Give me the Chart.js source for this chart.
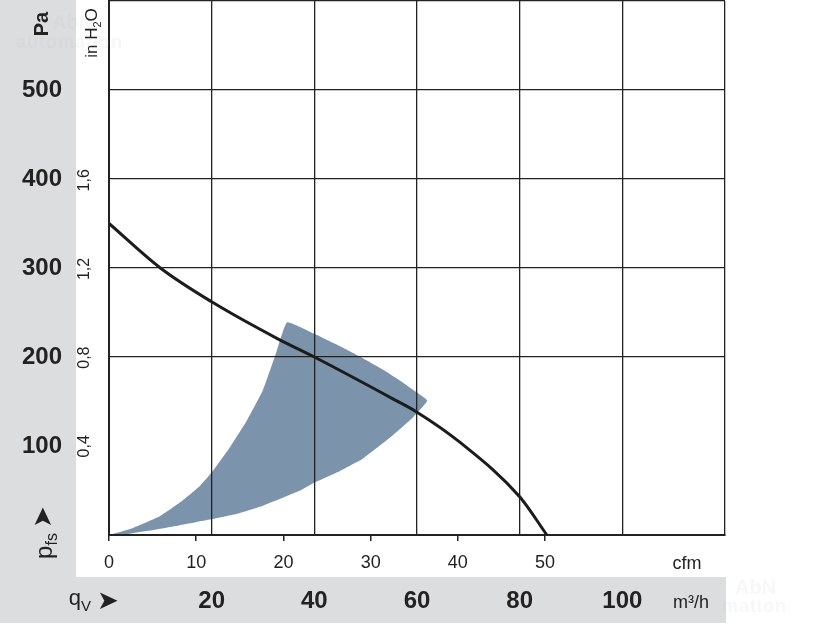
<!DOCTYPE html>
<html>
<head>
<meta charset="utf-8">
<script src="https://cdn.jsdelivr.net/npm/chart.js@4/dist/chart.umd.min.js"></script>
<style>
  html, body { margin: 0; padding: 0; background: #fff; }
  #wrap { position: relative; width: 816px; height: 624px; overflow: hidden; }
  #fan { position: absolute; left: 0; top: 0; }
  .lbl { position: absolute; transform: translate(-50%, -50%); white-space: nowrap; color: #222; line-height: 1;
         font-family: "Liberation Sans", Arial, sans-serif; }
  .rot { transform: translate(-50%, -50%) rotate(-90deg); }
  .wm { position: absolute; color: rgba(190,190,190,0.12); font-family: "Liberation Sans", sans-serif; font-weight: bold; line-height: 1; }
</style>
</head>
<body>
<div id="wrap">
  <canvas id="fan" width="816" height="624"></canvas>

  <!-- axis titles -->
  <div class="lbl rot" style="left:41px;top:24px;font-weight:bold;font-size:20px">Pa</div>
  <div class="lbl rot" style="left:93px;top:33px;font-size:17px">in H<sub style="font-size:11px">2</sub>O</div>
  <div class="lbl rot" style="left:42px;top:517px;font-size:26px;font-family:'DejaVu Sans',sans-serif">&#10148;</div>
  <div class="lbl rot" style="left:46px;top:546px;font-size:24px">p<sub style="font-size:16px">fs</sub></div>
  <div class="lbl" style="left:80px;top:600px;font-size:22px">q<sub style="font-size:15px">V</sub></div>
  <div class="lbl" style="left:108px;top:600px;font-size:26px;font-family:'DejaVu Sans',sans-serif">&#10148;</div>
  <div class="lbl" style="left:687px;top:563px;font-size:18px">cfm</div>
  <div class="lbl" style="left:691px;top:602px;font-size:18px">m³/h</div>

  <!-- faint watermarks -->
  <div class="wm" style="left:52px;top:12px;font-size:20px">AbN</div>
  <div class="wm" style="left:16px;top:33px;font-size:18px;letter-spacing:1px">automation</div>
  <div class="wm" style="left:735px;top:577px;font-size:20px">AbN</div>
  <div class="wm" style="left:722px;top:597px;font-size:18px;letter-spacing:1px">mation</div>
</div>

<script>
// unit conversions
const M3H_PER_CFM = 1.699;
const PA_PER_INH2O = 249.089;

// fan curve (m³/h, Pa)
const curveFlow = [0, 10, 20, 32.7, 40, 55.3, 60, 68.4, 80, 85.3];
const curvePa   = [350, 300, 262, 221, 200, 153, 138, 104, 43, 0];

// shaded operating range, closed outline (m³/h, Pa)
// left edge up to the tip, top arc, short right edge, lower edge back to 0
const rangeFlow = [0, 4.7, 9.9, 14.4, 17.7, 20.1, 23.6, 26.9, 30, 32.7, 34.7,
                   40, 45, 49, 53, 56, 59, 62,
                   59.2, 55.3, 49.5, 45, 39.7, 37.2, 30, 25, 20.1, 13.8, 8, 4, 0];
const rangePa   = [0, 8, 21, 39, 55, 71, 99, 129, 163, 207, 239,
                   226, 212, 200, 187, 176, 164, 151,
                   132, 112, 86, 72, 58, 50, 33, 24, 18, 11, 5, 1.5, 0];

// tick labels
const paTicks = [100, 200, 300, 400, 500];
const inH2OTicks = [0.4, 0.8, 1.2, 1.6];
const m3hTicks = [20, 40, 60, 80, 100];
const cfmTicks = [0, 10, 20, 30, 40, 50];

const curve = curveFlow.map((x, i) => ({ x, y: curvePa[i] }));
const range = rangeFlow.map((x, i) => ({ x, y: rangePa[i] }));

const sans = '"Liberation Sans", Arial, sans-serif';
const ink = '#222';
const none = 'rgba(0,0,0,0)';

// fixed axis boxes, no extra label padding
function fixBox(w, h) {
  return s => {
    if (w) s.width = w;
    if (h) s.height = h;
    s.paddingTop = s.paddingBottom = s.paddingLeft = s.paddingRight = 0;
  };
}

// gray bands behind the tick labels
const bands = {
  id: 'bands',
  beforeDraw(chart) {
    const { ctx, chartArea, scales } = chart;
    ctx.save();
    ctx.fillStyle = '#dcdddf';
    ctx.fillRect(0, 0, scales.y.right, scales.x.top);
    ctx.fillRect(0, scales.x.top, chartArea.right + 1, scales.x.bottom - scales.x.top - 1);
    ctx.restore();
  }
};

new Chart(document.getElementById('fan'), {
  type: 'scatter',
  data: {
    datasets: [
      { label: 'curve', data: curve, showLine: true, borderColor: '#1c1c1c', borderWidth: 3,
        pointRadius: 0, cubicInterpolationMode: 'monotone', fill: false, order: 0 },
      { label: 'range', data: range, showLine: true, borderWidth: 0, backgroundColor: '#7b94ab',
        fill: 'shape', pointRadius: 0, tension: 0.12, order: 1 }
    ]
  },
  options: {
    responsive: false,
    animation: false,
    devicePixelRatio: 1,
    layout: { padding: { top: 1, right: 91, left: 0, bottom: 0 } },
    plugins: { legend: { display: false }, tooltip: { enabled: false }, filler: { drawTime: 'beforeDraw' } },
    scales: {
      x: {
        type: 'linear', position: 'bottom', min: 0, max: 120, weight: 1,
        afterFit: fixBox(0, 47),
        ticks: { stepSize: 20, autoSkip: false, maxRotation: 0, padding: 10, color: ink,
                 font: { family: sans, size: 24, weight: 'bold' },
                 callback: v => m3hTicks.includes(v) ? String(v) : '' },
        grid: { color: ink, lineWidth: 1.3, drawTicks: false },
        border: { display: false }
      },
      x2: {
        type: 'linear', position: 'bottom', min: 0, max: 120 / M3H_PER_CFM, weight: 0,
        afterFit: fixBox(0, 42),
        ticks: { stepSize: 10, includeBounds: false, autoSkip: false, maxRotation: 0, padding: 11, color: ink,
                 font: { family: sans, size: 18 },
                 callback: v => cfmTicks.includes(v) ? String(v) : '' },
        grid: { drawOnChartArea: false, drawTicks: true, tickLength: 6, lineWidth: 1.5,
                color: c => (c.tick && c.tick.value <= 50) ? ink : none },
        border: { display: true, color: ink, width: 2 }
      },
      y: {
        type: 'linear', position: 'left', min: 0, max: 600, weight: 1,
        afterFit: fixBox(76, 0),
        ticks: { stepSize: 100, padding: 14, color: ink,
                 font: { family: sans, size: 24, weight: 'bold' },
                 callback: v => paTicks.includes(v) ? String(v) : '' },
        grid: { drawTicks: false, lineWidth: 1.3,
                color: c => (c.tick && c.tick.value >= 200) ? ink : none },
        border: { display: false }
      },
      y2: {
        type: 'linear', position: 'left', min: 0, max: 600 / PA_PER_INH2O, weight: 0,
        afterFit: fixBox(33, 0),
        ticks: { stepSize: 0.4, includeBounds: false, minRotation: 90, maxRotation: 90,
                 crossAlign: 'center', padding: 5, color: ink,
                 font: { family: sans, size: 16 },
                 callback: v => {
                   const t = inH2OTicks.find(k => Math.abs(k - v) < 1e-6);
                   return t === undefined ? '' : t.toFixed(1).replace('.', ',');
                 } },
        grid: { display: false },
        border: { display: true, color: ink, width: 2 }
      }
    }
  },
  plugins: [bands]
});
</script>
</body>
</html>
